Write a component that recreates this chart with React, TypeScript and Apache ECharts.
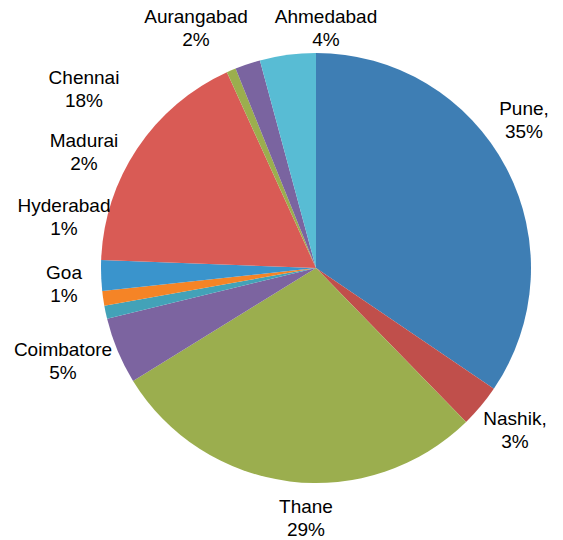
import React, { useEffect, useRef } from "react";
import * as echarts from "echarts";

// Categories in clockwise order starting at 12 o'clock
const CATEGORIES = [
  "Pune",
  "Nashik",
  "Thane",
  "Coimbatore",
  "Goa",
  "Hyderabad",
  "Madurai",
  "Chennai",
  "Other",
  "Aurangabad",
  "Ahmedabad",
];
// Share of each city (percent)
const VALUES = [34.5, 3.2, 28.5, 5.0, 1.0, 1.1, 2.3, 17.6, 0.7, 1.9, 4.2];
const COLORS = [
  "#3E7EB4",
  "#C04F4B",
  "#9BAE4E",
  "#7C64A0",
  "#43A2B8",
  "#F58426",
  "#3A94CC",
  "#D95B55",
  "#9BAE4E",
  "#7A64A0",
  "#58BCD4",
];
const COMMA_LABELS = ["Pune", "Nashik"];
const HIDDEN_LABELS = ["Other"];
// label anchor (text block centre) in page pixels, by category order
const LABEL_X = [524, 515, 306, 63, 64, 64, 84, 84, 0, 196, 326];
const LABEL_Y = [120, 430, 518, 361, 284, 217, 152, 89, 0, 28, 28];

export default function App() {
  const ref = useRef<HTMLDivElement>(null);
  useEffect(() => {
    if (!ref.current) return;
    const chart = echarts.init(ref.current, null, { renderer: "svg" });
    const data = CATEGORIES.map((name, i) => ({
      name,
      value: VALUES[i],
      itemStyle: { color: COLORS[i] },
      label: { show: !HIDDEN_LABELS.includes(name) },
    }));
    chart.setOption({
      animation: false,
      backgroundColor: "#ffffff",
      series: [
        {
          type: "pie",
          center: [316, 268],
          radius: [0, 215],
          startAngle: 90,
          clockwise: true,
          avoidLabelOverlap: false,
          data,
          itemStyle: { borderColor: "#ffffff", borderWidth: 0 },
          emphasis: { disabled: true },
          labelLine: { show: false },
          label: {
            position: "outside",
            color: "#000000",
            fontFamily: "Liberation Sans, Arial, sans-serif",
            fontSize: 19,
            lineHeight: 23,
            align: "center",
            formatter: (p: any) =>
              p.name +
              (COMMA_LABELS.includes(p.name) ? "," : "") +
              "\n" +
              Math.round(p.value) +
              "%",
          },
          labelLayout: (params: any) => {
            const i = params.dataIndex;
            if (HIDDEN_LABELS.includes(CATEGORIES[i])) return {};
            return {
              x: LABEL_X[i],
              y: LABEL_Y[i],
              align: "center",
              verticalAlign: "middle",
            };
          },
        },
      ],
    });
    return () => chart.dispose();
  }, []);
  return (
    <div
      ref={ref}
      style={{ position: "fixed", left: 0, top: 0, width: 563, height: 540 }}
    />
  );
}
